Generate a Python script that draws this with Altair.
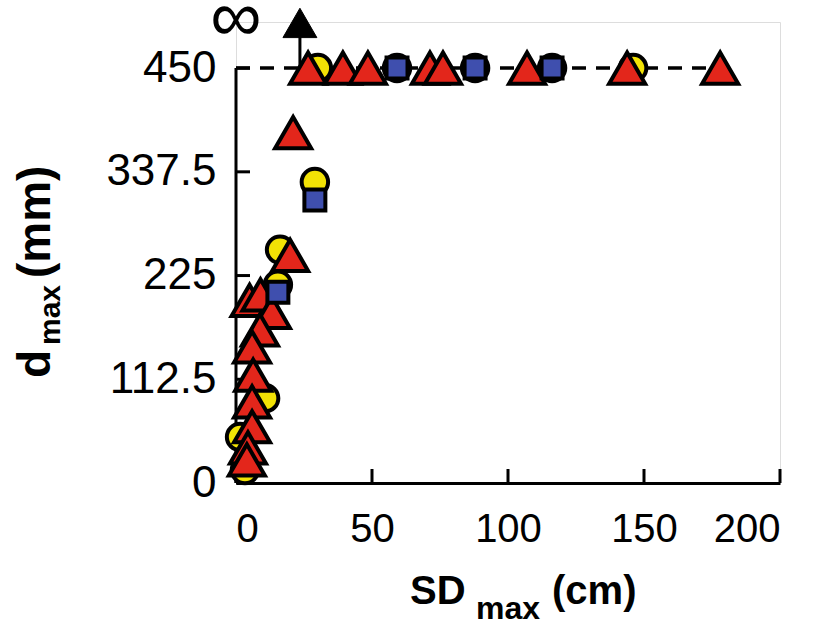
import altair as alt
import pandas as pd

# Yellow circles
circ_x = [30.1, 59.2, 87.9, 116.2, 146.0, 29.0, 16.2, 15.4, 10.7, 1.5, 3.3]
circ_y = [450, 450, 450, 450, 450, 326.5, 253, 215, 92, 50, 14]

# Blue squares
sq_x = [59.2, 87.9, 116.2, 29.0, 15.4]
sq_y = [450, 450, 450, 307, 207]

# Red triangles
tri_x = [26.5, 39.3, 48.5, 71.3, 76.1, 107.0, 143.8, 178.0,
         21.0, 19.9, 5.0, 9.0, 13.2, 8.8, 5.9, 6.3, 5.9, 5.9, 4.4, 4.0]
tri_y = [450, 450, 450, 450, 450, 450, 450, 450,
         380, 247, 198, 204, 185, 166, 147.5, 117, 88, 61, 38, 25]

# "infinite" point (arrow)
inf_x = [23.5]
inf_y = [499]

y_ticks = [0, 112.5, 225, 337.5, 450]
x_ticks = [0, 50, 100, 150, 200]

W, H = 544, 461
FONT = "Liberation Sans"

xs = alt.Scale(domain=[0, 200], nice=False, zero=False)
ys = alt.Scale(domain=[0, 500], nice=False, zero=False)

circ = pd.DataFrame({"x": circ_x, "y": circ_y})
sq = pd.DataFrame({"x": sq_x, "y": sq_y})
tri = pd.DataFrame({"x": tri_x, "y": tri_y})
inf = pd.DataFrame({"x": inf_x, "y": inf_y, "y0": [450]})

xaxis = alt.Axis(values=x_ticks, title=None, grid=False, ticks=False, domain=True,
                 domainColor="black", domainWidth=3, labelFontSize=40, labelFont=FONT,
                 labelColor="black", labelPadding=26, format="d")
yaxis = alt.Axis(values=y_ticks, title=None, grid=False, ticks=False, domain=False,
                 labelFontSize=44, labelFont=FONT, labelColor="black", labelPadding=20,
                 format=".1~f")

base_axes = alt.Chart(pd.DataFrame({"x": [0], "y": [0]})).mark_point(opacity=0).encode(
    x=alt.X("x:Q", scale=xs, axis=xaxis),
    y=alt.Y("y:Q", scale=ys, axis=yaxis),
)

# y axis line (0..450 only)
yline = alt.Chart(pd.DataFrame({"y": [0], "y2": [450]})).mark_rule(
    color="black", strokeWidth=3).encode(
    x=alt.value(0), y=alt.Y("y:Q", scale=ys), y2="y2:Q")

# inward ticks
ytick = alt.Chart(pd.DataFrame({"y": y_ticks})).mark_rule(color="black", strokeWidth=3).encode(
    x=alt.value(0), x2=alt.value(14), y=alt.Y("y:Q", scale=ys))
xtick = alt.Chart(pd.DataFrame({"x": x_ticks})).mark_rule(color="black", strokeWidth=3).encode(
    x=alt.X("x:Q", scale=xs), y=alt.value(H), y2=alt.value(H - 14))

# dashed line at 450
dash = alt.Chart(pd.DataFrame({"x": [0], "x2": [180], "y": [450]})).mark_rule(
    color="black", strokeWidth=3.5, strokeDash=[14, 10]).encode(
    x=alt.X("x:Q", scale=xs), x2="x2:Q", y=alt.Y("y:Q", scale=ys))

circles = alt.Chart(circ).mark_point(shape="circle", filled=True, fill="#f2e205",
                                     stroke="black", strokeWidth=4, size=700, opacity=1).encode(
    x=alt.X("x:Q", scale=xs), y=alt.Y("y:Q", scale=ys))
tris = alt.Chart(tri).mark_point(shape="triangle-up", filled=True, fill="#e3261b",
                                 stroke="black", strokeWidth=4, size=1300, opacity=1).encode(
    x=alt.X("x:Q", scale=xs), y=alt.Y("y:Q", scale=ys))
squares = alt.Chart(sq).mark_point(shape="square", filled=True, fill="#3f4fae",
                                   stroke="black", strokeWidth=4, size=440, opacity=1).encode(
    x=alt.X("x:Q", scale=xs), y=alt.Y("y:Q", scale=ys))

inf_stem = alt.Chart(inf).mark_rule(color="black", strokeWidth=3).encode(
    x=alt.X("x:Q", scale=xs), y=alt.Y("y0:Q", scale=ys), y2="y:Q")
inf_tri = alt.Chart(inf).mark_point(shape="triangle-up", filled=True, fill="black",
                                    stroke="black", strokeWidth=1, size=1150, opacity=1).encode(
    x=alt.X("x:Q", scale=xs), y=alt.Y("y:Q", scale=ys))

inf_text = alt.Chart(pd.DataFrame({"x": [0], "y": [503], "t": ["∞"]})).mark_text(
    font=FONT, fontSize=72, align="center", baseline="middle", color="black").encode(
    x=alt.X("x:Q", scale=xs), y=alt.Y("y:Q", scale=ys), text="t:N")

def txt(s, x, y, size, angle=0):
    return alt.Chart(pd.DataFrame({"t": [s]})).mark_text(
        font=FONT, fontSize=size, fontWeight="bold", align="left", baseline="alphabetic",
        color="black", angle=angle).encode(x=alt.value(x), y=alt.value(y), text="t:N")

titles = [
    txt("SD", 174, 582, 40),
    txt("max", 240, 597, 32),
    txt("(cm)", 316, 582, 40),
    txt("d", -186, 356, 46, 270),
    txt("max", -176, 323, 30, 270),
    txt("(mm)", -186, 256, 46, 270),
]

chart = alt.layer(base_axes, dash, yline, ytick, xtick, inf_stem, inf_tri, inf_text,
                  circles, tris, squares, *titles).properties(
    width=W, height=H,
    padding={"left": 236, "top": 22, "right": 49, "bottom": 143},
    autosize=alt.AutoSizeParams(type="none"),
).configure_view(stroke=None).configure(background="white")

chart.save("out.html", embed_options={"renderer": "svg", "actions": False})
